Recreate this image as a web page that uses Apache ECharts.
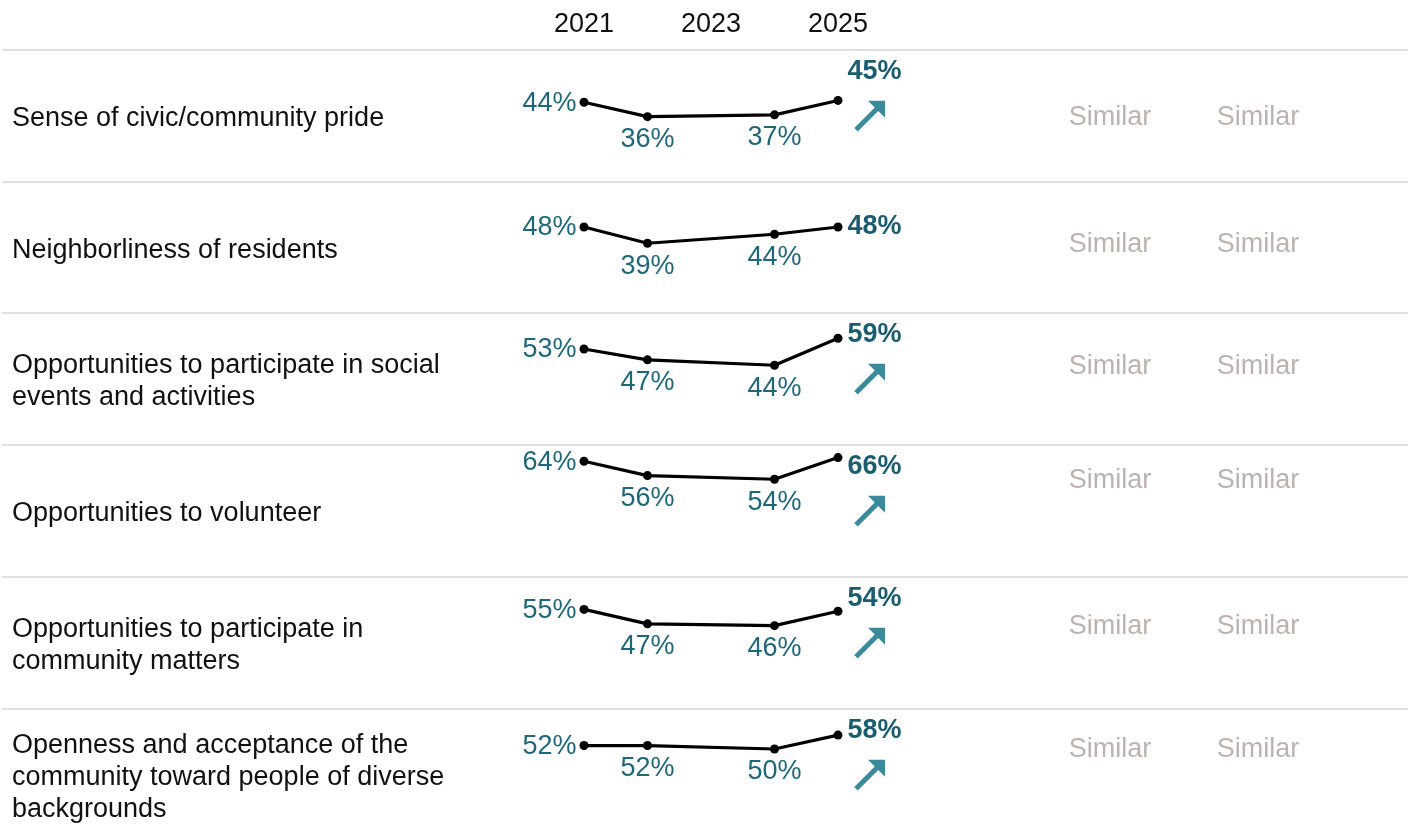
<!DOCTYPE html>
<html>
<head>
<meta charset="utf-8">
<style>
  html, body { margin: 0; padding: 0; background: #fff; }
  #chart { width: 1408px; height: 836px; }
</style>
<script src="https://cdn.jsdelivr.net/npm/echarts@6/dist/echarts.min.js"></script>
</head>
<body>
<div id="chart"></div>
<script>
// 行标题
const categories = [
  "Sense of civic/community pride",
  "Neighborliness of residents",
  "Opportunities to participate in social\nevents and activities",
  "Opportunities to volunteer",
  "Opportunities to participate in\ncommunity matters",
  "Openness and acceptance of the\ncommunity toward people of diverse\nbackgrounds"
];
// 调查年份 & 顶部刻度
const years = [2021, 2022, 2024, 2025];
const yearTicks = [2021, 2023, 2025];

// 各行数值 (%)
const civicPride = [44, 36, 37, 45];
const neighborliness = [48, 39, 44, 48];
const socialEvents = [53, 47, 44, 59];
const volunteer = [64, 56, 54, 66];
const communityMatters = [55, 47, 46, 54];
const openness = [52, 52, 50, 58];
const rows = [civicPride, neighborliness, socialEvents, volunteer, communityMatters, openness];

// 趋势箭头 & 对比列
const trend = ["up", "", "up", "up", "up", "up"];
const compareA = ["Similar", "Similar", "Similar", "Similar", "Similar", "Similar"];
const compareB = ["Similar", "Similar", "Similar", "Similar", "Similar", "Similar"];

// 布局
const FONT = "'Liberation Sans', Arial, sans-serif";
const FS = 27;
const TEAL = "#1f6779";
const TEAL_DARK = "#1b5d6e";
const ROW_TOP = [50, 182, 313, 445, 577, 709];
const ROW_H = 131.5;

const chart = echarts.init(document.getElementById("chart"));

function pointLabel(j, last) {
  const base = { show: true, fontFamily: FONT, fontSize: FS, color: TEAL, formatter: p => p.value[1] + "%" };
  if (j === 0) return Object.assign(base, { position: "left", distance: 3, offset: [0, 1] });
  if (j === last) return Object.assign(base, { position: "right", distance: 5, fontWeight: "bold", color: TEAL_DARK });
  return Object.assign(base, { position: "bottom", distance: 5 });
}

const grid = [], xAxis = [], yAxis = [], series = [];
rows.forEach((vals, i) => {
  grid.push({ left: 584, width: 254, top: ROW_TOP[i], height: ROW_H });
  xAxis.push({
    type: "value", gridIndex: i, min: 2021, max: 2025, interval: 1, position: "top",
    axisLine: { show: false }, axisTick: { show: false }, splitLine: { show: false },
    axisLabel: {
      show: i === 0, margin: 12, fontFamily: FONT, fontSize: FS, color: "#111",
      formatter: v => (yearTicks.indexOf(v) >= 0 ? String(v) : "")
    }
  });
  yAxis.push({ type: "value", gridIndex: i, min: 0, max: 73, show: false });
  series.push({
    type: "line", xAxisIndex: i, yAxisIndex: i, symbol: "circle", symbolSize: 9,
    lineStyle: { color: "#000", width: 3.2 }, itemStyle: { color: "#000" },
    data: years.map((y, j) => ({ value: [y, vals[j]], label: pointLabel(j, years.length - 1) })),
    animation: false
  });
});

chart.setOption({ animation: false, grid, xAxis, yAxis, series });

// 第二步：依据像素位置放置箭头、对比文字、末值标签
const graphic = [];
const seriesUpdate = [];
rows.forEach((vals, i) => {
  const top = ROW_TOP[i];
  const mid = top + ROW_H / 2;
  // 分隔线
  graphic.push({ type: "line", shape: { x1: 2, y1: top, x2: 1408, y2: top }, style: { stroke: "#d6d6d6", lineWidth: 1.5 }, silent: true });
  // 行标题
  graphic.push({
    type: "text", x: 12, y: mid + 3, silent: true,
    style: { text: categories[i], font: FS + "px " + FONT, fill: "#111", lineHeight: 32, verticalAlign: "middle" }
  });
  // 对比列放在最低点高度
  const minV = Math.min.apply(null, vals);
  const minY = chart.convertToPixel({ seriesIndex: i }, [years[vals.indexOf(minV)], minV])[1];
  [[compareA, 1110], [compareB, 1258]].forEach(([arr, cx]) => {
    graphic.push({
      type: "text", x: cx, y: minY + 1, silent: true,
      style: { text: arr[i], font: FS + "px " + FONT, fill: "#bcb3ae", align: "center", verticalAlign: "middle" }
    });
  });
  const last = years.length - 1;
  if (trend[i] === "up") {
    // 箭头
    graphic.push({
      type: "group", x: 870, y: mid, silent: true,
      children: [
        { type: "line", shape: { x1: -14, y1: 14, x2: 9, y2: -9 }, style: { stroke: "#3a8a9a", lineWidth: 5 } },
        { type: "polygon", shape: { points: [[-2, -15], [15, -15], [15, 2]] }, style: { fill: "#3a8a9a" } }
      ]
    });
    // 末值标签移到行顶部
    const py = chart.convertToPixel({ seriesIndex: i }, [years[last], vals[last]])[1];
    const lbl = pointLabel(last, last);
    lbl.offset = [0, top + 22 - py];
    seriesUpdate.push({
      data: years.map((y, j) => ({ value: [y, vals[j]], label: j === last ? lbl : pointLabel(j, last) }))
    });
  } else {
    seriesUpdate.push({});
  }
});

chart.setOption({ series: seriesUpdate, graphic });
</script>
</body>
</html>
